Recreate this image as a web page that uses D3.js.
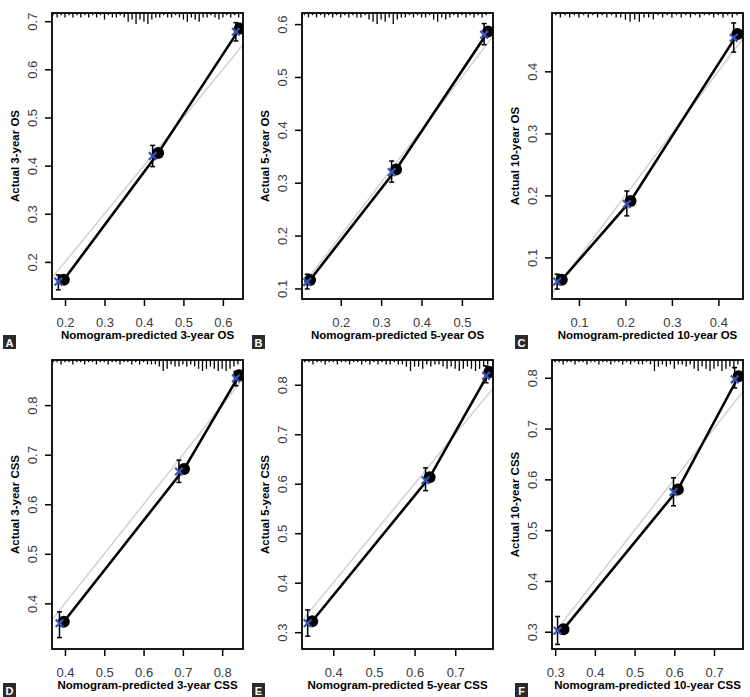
<!DOCTYPE html>
<html>
<head>
<meta charset="utf-8">
<script src="https://d3js.org/d3.v7.min.js"></script>
<style>
  body { margin: 0; background: #fff; }
  svg { display: block; font-family: "Liberation Sans", Arial, sans-serif; }
</style>
</head>
<body>
<div id="chart"></div>
<script>
const W = 750, H = 697;

// panel letters and titles
const letters = ["A", "B", "C", "D", "E", "F"];
const xTitles = ["Nomogram-predicted 3-year OS", "Nomogram-predicted 5-year OS", "Nomogram-predicted 10-year OS",
  "Nomogram-predicted 3-year CSS", "Nomogram-predicted 5-year CSS", "Nomogram-predicted 10-year CSS"];
const yTitles = ["Actual 3-year OS", "Actual 5-year OS", "Actual 10-year OS",
  "Actual 3-year CSS", "Actual 5-year CSS", "Actual 10-year CSS"];

// axis ranges and tick labels
const xDomains = [[0.167, 0.651], [0.104, 0.577], [0.042, 0.453], [0.367, 0.853], [0.323, 0.793], [0.292, 0.773]];
const yDomains = [[0.123, 0.717], [0.080, 0.621], [0.033, 0.494], [0.308, 0.891], [0.266, 0.850], [0.266, 0.835]];
const xTicks = [[0.2, 0.3, 0.4, 0.5, 0.6], [0.2, 0.3, 0.4, 0.5], [0.1, 0.2, 0.3, 0.4],
  [0.4, 0.5, 0.6, 0.7, 0.8], [0.4, 0.5, 0.6, 0.7], [0.3, 0.4, 0.5, 0.6, 0.7]];
const yTicks = [[0.2, 0.3, 0.4, 0.5, 0.6, 0.7], [0.1, 0.2, 0.3, 0.4, 0.5, 0.6], [0.1, 0.2, 0.3, 0.4],
  [0.4, 0.5, 0.6, 0.7, 0.8], [0.3, 0.4, 0.5, 0.6, 0.7, 0.8], [0.3, 0.4, 0.5, 0.6, 0.7, 0.8]];

// observed (black dots + line)
const obsPred = [[0.197, 0.436, 0.643], [0.124, 0.337, 0.565], [0.063, 0.211, 0.441],
  [0.397, 0.703, 0.843], [0.348, 0.637, 0.784], [0.321, 0.609, 0.762]];
const obsActual = [[0.163, 0.426, 0.685], [0.116, 0.325, 0.586], [0.064, 0.191, 0.460],
  [0.363, 0.671, 0.860], [0.322, 0.613, 0.826], [0.305, 0.580, 0.803]];

// bias-corrected (blue x) with error bars
const corPred = [[0.183, 0.422, 0.633], [0.117, 0.326, 0.555], [0.053, 0.203, 0.433],
  [0.386, 0.690, 0.835], [0.337, 0.627, 0.776], [0.306, 0.598, 0.752]];
const corActual = [[0.159, 0.420, 0.678], [0.112, 0.320, 0.580], [0.061, 0.186, 0.454],
  [0.360, 0.666, 0.854], [0.318, 0.607, 0.818], [0.302, 0.575, 0.797]];
const corLow = [[0.142, 0.398, 0.659], [0.099, 0.301, 0.561], [0.049, 0.167, 0.431],
  [0.331, 0.644, 0.839], [0.292, 0.586, 0.804], [0.275, 0.548, 0.780]];
const corHigh = [[0.173, 0.442, 0.697], [0.127, 0.341, 0.601], [0.073, 0.207, 0.478],
  [0.383, 0.689, 0.868], [0.345, 0.632, 0.838], [0.330, 0.603, 0.820]];

// distribution of predictions (rug at top): [predicted, relative count]
const rugA = [[0.17,1],[0.18,2],[0.19,1],[0.20,2],[0.21,1],[0.22,2],[0.23,1],[0.24,2],[0.25,1],[0.26,2],[0.27,1],[0.28,2],[0.29,1],[0.30,3],[0.31,1],[0.32,2],[0.33,2],[0.34,1],[0.35,2],[0.36,4],[0.37,3],[0.38,5],[0.39,3],[0.40,4],[0.41,5],[0.42,3],[0.43,2],[0.44,2],[0.45,1],[0.46,2],[0.47,2],[0.48,1],[0.49,2],[0.50,3],[0.51,4],[0.52,2],[0.53,3],[0.54,4],[0.55,2],[0.56,2],[0.57,1],[0.58,2],[0.59,3],[0.60,2],[0.61,1],[0.62,2],[0.63,1],[0.64,2]];
const rugB = [[0.11,1],[0.12,2],[0.13,1],[0.14,2],[0.15,1],[0.16,2],[0.17,1],[0.18,2],[0.19,1],[0.20,2],[0.21,1],[0.22,2],[0.23,1],[0.24,2],[0.25,2],[0.26,1],[0.27,3],[0.28,4],[0.29,5],[0.30,3],[0.31,4],[0.32,2],[0.33,5],[0.34,3],[0.35,2],[0.36,2],[0.37,1],[0.38,2],[0.39,1],[0.40,2],[0.41,2],[0.42,1],[0.43,3],[0.44,4],[0.45,2],[0.46,3],[0.47,2],[0.48,1],[0.49,2],[0.50,1],[0.51,2],[0.52,1],[0.53,2],[0.54,1],[0.55,2],[0.56,1]];
const rugC = [[0.05,1],[0.06,2],[0.07,1],[0.08,2],[0.09,1],[0.10,2],[0.11,1],[0.12,2],[0.13,1],[0.14,2],[0.15,1],[0.16,2],[0.17,1],[0.18,2],[0.19,2],[0.20,3],[0.21,4],[0.22,3],[0.23,4],[0.24,2],[0.25,2],[0.26,3],[0.27,1],[0.28,2],[0.29,1],[0.30,2],[0.31,1],[0.32,2],[0.33,1],[0.34,2],[0.35,1],[0.36,2],[0.37,1],[0.38,1],[0.39,2],[0.40,1],[0.41,2],[0.42,1],[0.43,2],[0.44,1]];
const rugD = [[0.37,1],[0.38,1],[0.39,2],[0.40,1],[0.41,1],[0.42,2],[0.43,1],[0.44,1],[0.45,2],[0.46,1],[0.47,1],[0.48,2],[0.49,1],[0.50,1],[0.51,2],[0.52,1],[0.53,1],[0.54,2],[0.55,1],[0.56,1],[0.57,2],[0.58,1],[0.59,2],[0.60,1],[0.61,2],[0.62,2],[0.63,2],[0.64,3],[0.65,5],[0.66,4],[0.67,2],[0.68,3],[0.69,3],[0.70,2],[0.71,3],[0.72,2],[0.73,3],[0.74,4],[0.75,5],[0.76,4],[0.77,3],[0.78,4],[0.79,5],[0.80,4],[0.81,5],[0.82,4],[0.83,3],[0.84,2]];
const rugE = [[0.33,1],[0.34,1],[0.35,2],[0.36,1],[0.37,1],[0.38,2],[0.39,1],[0.40,1],[0.41,2],[0.42,1],[0.43,1],[0.44,2],[0.45,1],[0.46,1],[0.47,2],[0.48,1],[0.49,2],[0.50,1],[0.51,2],[0.52,1],[0.53,2],[0.54,2],[0.55,1],[0.56,2],[0.57,2],[0.58,3],[0.59,5],[0.60,3],[0.61,3],[0.62,4],[0.63,2],[0.64,3],[0.65,2],[0.66,2],[0.67,3],[0.68,4],[0.69,3],[0.70,4],[0.71,5],[0.72,4],[0.73,3],[0.74,4],[0.75,5],[0.76,4],[0.77,3],[0.78,2]];
const rugF = [[0.30,1],[0.31,1],[0.32,2],[0.33,1],[0.34,1],[0.35,2],[0.36,1],[0.37,1],[0.38,2],[0.39,1],[0.40,1],[0.41,2],[0.42,1],[0.43,1],[0.44,2],[0.45,1],[0.46,1],[0.47,2],[0.48,1],[0.49,2],[0.50,1],[0.51,2],[0.52,2],[0.53,1],[0.54,2],[0.55,5],[0.56,3],[0.57,2],[0.58,3],[0.59,2],[0.60,4],[0.61,2],[0.62,2],[0.63,3],[0.64,2],[0.65,4],[0.66,5],[0.67,3],[0.68,4],[0.69,5],[0.70,4],[0.71,3],[0.72,5],[0.73,4],[0.74,3],[0.75,4],[0.76,2]];
const rugs = [rugA, rugB, rugC, rugD, rugE, rugF];

// layout
const colX = [0, 250, 500];
const rowTop = [13, 360];
const rowH = [286, 289];
const boxLeft = 52, boxW = 191;
const letterX = [3, 252, 515];
const letterY = [335, 683];
const blue = "#3b54b3";

const svg = d3.select("#chart").append("svg")
  .attr("width", W)
  .attr("height", H);

const rugLen = d3.scaleLinear().domain([0, 5]).range([0, 11]);

letters.forEach((letter, i) => {
  const col = i % 3, row = Math.floor(i / 3);
  const h = rowH[row];
  const g = svg.append("g")
    .attr("transform", `translate(${colX[col] + boxLeft},${rowTop[row]})`);

  const x = d3.scaleLinear().domain(xDomains[i]).range([0, boxW]);
  const y = d3.scaleLinear().domain(yDomains[i]).range([h, 0]);

  const clipId = "clip" + i;
  g.append("clipPath").attr("id", clipId)
    .append("rect").attr("width", boxW).attr("height", h);
  const plot = g.append("g").attr("clip-path", `url(#${clipId})`);

  // ideal line
  const lo = Math.min(xDomains[i][0], yDomains[i][0]);
  const hi = Math.max(xDomains[i][1], yDomains[i][1]);
  plot.append("line")
    .attr("x1", x(lo)).attr("y1", y(lo))
    .attr("x2", x(hi)).attr("y2", y(hi))
    .attr("stroke", "#d4d4d4")
    .attr("stroke-width", 1.6);

  // rug of predictions
  plot.append("g").selectAll("line")
    .data(rugs[i])
    .join("line")
    .attr("x1", d => x(d[0])).attr("x2", d => x(d[0]))
    .attr("y1", 0).attr("y2", d => rugLen(d[1]))
    .attr("stroke", "#000")
    .attr("stroke-width", 1.3);

  // observed line + dots
  const obs = obsPred[i].map((p, k) => [p, obsActual[i][k]]);
  plot.append("path")
    .datum(obs)
    .attr("d", d3.line().x(d => x(d[0])).y(d => y(d[1])))
    .attr("fill", "none")
    .attr("stroke", "#000")
    .attr("stroke-width", 2.6);

  plot.append("g").selectAll("circle")
    .data(obs)
    .join("circle")
    .attr("cx", d => x(d[0]))
    .attr("cy", d => y(d[1]))
    .attr("r", 6)
    .attr("fill", "#000");

  // error bars
  const cor = corPred[i].map((p, k) => ({ p, a: corActual[i][k], lo: corLow[i][k], hi: corHigh[i][k] }));
  const eb = plot.append("g").attr("stroke", "#000").attr("stroke-width", 1.5);
  eb.selectAll(".bar").data(cor).join("line").attr("class", "bar")
    .attr("x1", d => x(d.p)).attr("x2", d => x(d.p))
    .attr("y1", d => y(d.lo)).attr("y2", d => y(d.hi));
  eb.selectAll(".capl").data(cor).join("line").attr("class", "capl")
    .attr("x1", d => x(d.p) - 2.5).attr("x2", d => x(d.p) + 2.5)
    .attr("y1", d => y(d.lo)).attr("y2", d => y(d.lo));
  eb.selectAll(".caph").data(cor).join("line").attr("class", "caph")
    .attr("x1", d => x(d.p) - 2.5).attr("x2", d => x(d.p) + 2.5)
    .attr("y1", d => y(d.hi)).attr("y2", d => y(d.hi));

  // bias-corrected markers
  plot.append("g").selectAll("path")
    .data(cor)
    .join("path")
    .attr("d", d => {
      const cx = x(d.p), cy = y(d.a), s = 3.8;
      return `M${cx - s},${cy - s}L${cx + s},${cy + s}M${cx - s},${cy + s}L${cx + s},${cy - s}`;
    })
    .attr("stroke", blue)
    .attr("stroke-width", 2.2)
    .attr("fill", "none");

  // axes
  const xAxis = g.append("g")
    .attr("transform", `translate(0,${h})`)
    .call(d3.axisBottom(x).tickValues(xTicks[i]).tickSize(7).tickSizeOuter(0).tickFormat(d3.format(".1f")));
  xAxis.select(".domain").remove();
  xAxis.selectAll(".tick line").attr("stroke", "#000").attr("stroke-width", 1.5);
  xAxis.selectAll(".tick text")
    .attr("y", 28).attr("dy", 0)
    .attr("fill", "#3a3a3a")
    .style("font-size", "13px");

  const yAxis = g.append("g")
    .call(d3.axisLeft(y).tickValues(yTicks[i]).tickSize(7).tickSizeOuter(0).tickFormat(d3.format(".1f")));
  yAxis.select(".domain").remove();
  yAxis.selectAll(".tick line").attr("stroke", "#000").attr("stroke-width", 1.5);
  yAxis.selectAll(".tick text")
    .attr("transform", "rotate(-90)")
    .attr("x", 0).attr("y", -15).attr("dy", 0)
    .attr("text-anchor", "middle")
    .attr("fill", "#3a3a3a")
    .style("font-size", "13px");

  // box
  g.append("rect")
    .attr("width", boxW).attr("height", h)
    .attr("fill", "none")
    .attr("stroke", "#000")
    .attr("stroke-width", 1.8);

  // titles
  g.append("text")
    .attr("x", boxW / 2).attr("y", h + 40)
    .attr("text-anchor", "middle")
    .style("font-size", "11.5px").style("font-weight", "bold")
    .text(xTitles[i]);
  g.append("text")
    .attr("transform", `translate(-33,${h / 2}) rotate(-90)`)
    .attr("text-anchor", "middle")
    .style("font-size", "11.5px").style("font-weight", "bold")
    .text(yTitles[i]);

  // panel letter
  const lg = svg.append("g").attr("transform", `translate(${letterX[col]},${letterY[row]})`);
  lg.append("rect").attr("width", 13).attr("height", 14).attr("fill", "#2b2b2b");
  lg.append("text")
    .attr("x", 6.5).attr("y", 11.5)
    .attr("text-anchor", "middle")
    .attr("fill", "#fff")
    .style("font-size", "11px").style("font-weight", "bold")
    .text(letter);
});
</script>
</body>
</html>
